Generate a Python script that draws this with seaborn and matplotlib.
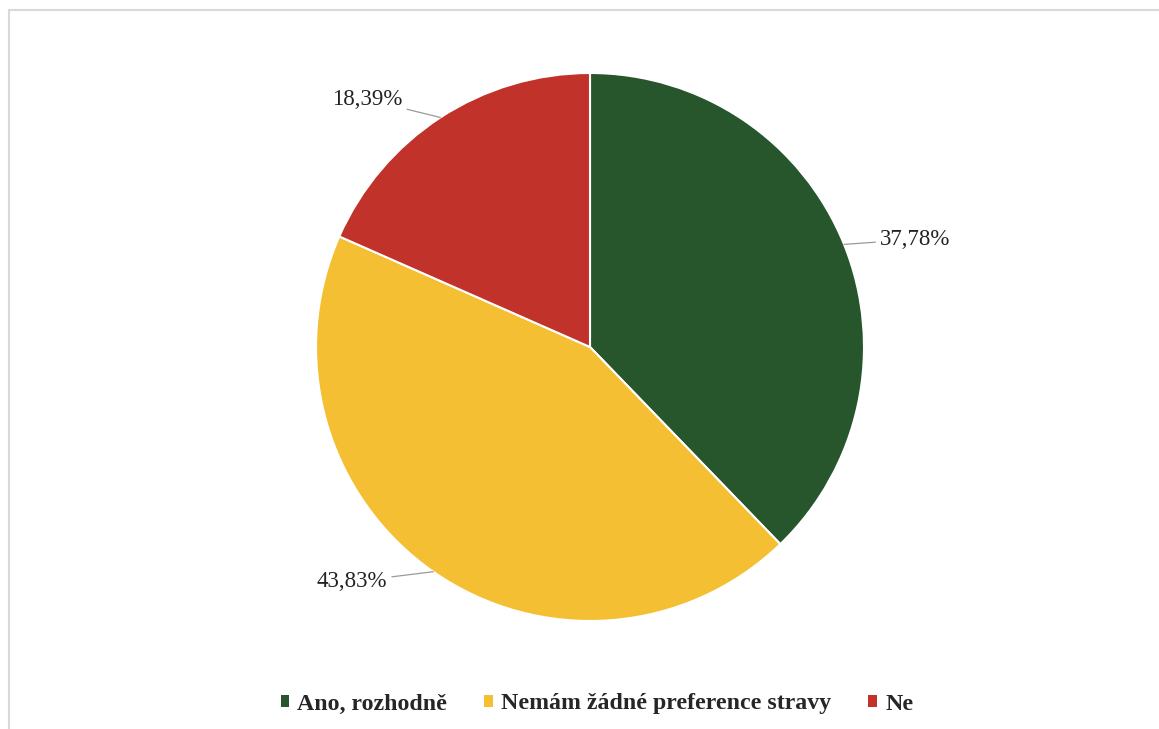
import matplotlib
matplotlib.use("Agg")
import matplotlib.pyplot as plt
import matplotlib.patches as mpatches
from matplotlib.lines import Line2D
import seaborn as sns
import numpy as np

# --- Data ---
categories = ["Ano, rozhodně", "Nemám žádné preference stravy", "Ne"]
shares = [37.78, 43.83, 18.39]
colors = ["#27552C", "#F5BF33", "#C0322A"]

# label offsets from the wedge edge (pixels), and text alignment
LABEL_OFFSETS = [(36, 5), (-46, -10), (-38, 18)]
LABEL_HA = ["left", "right", "right"]

W, H = 1159, 729
sns.set_theme(style="white")
plt.rcParams["font.family"] = ["Liberation Serif", "DejaVu Serif"]

fig = plt.figure(figsize=(W / 100, H / 100), dpi=100)
fig.patch.set_facecolor("white")

# pie centre (590, 347) px, radius 274 px
cx, cy, r = 590, 347, 274
ax = fig.add_axes([(cx - r) / W, (H - cy - r) / H, 2 * r / W, 2 * r / H])

wedges, _ = ax.pie(shares, colors=colors, startangle=90, counterclock=False,
                   radius=1.0, wedgeprops=dict(edgecolor="white", linewidth=1.5))
ax.set_xlim(-1, 1)
ax.set_ylim(-1, 1)
ax.set_aspect("equal")
ax.axis("off")

for w, val, off, ha in zip(wedges, shares, LABEL_OFFSETS, LABEL_HA):
    ang = np.deg2rad((w.theta1 + w.theta2) / 2)
    x, y = np.cos(ang), np.sin(ang)
    ax.annotate(f"{val:.2f}%".replace(".", ","), xy=(x, y), xytext=off,
                textcoords="offset pixels", ha=ha, va="center", fontsize=16.5,
                color="#222222",
                arrowprops=dict(arrowstyle="-", color="#9a9a9a", lw=0.9,
                                shrinkA=1, shrinkB=0))

# legend at the bottom
handles = [mpatches.Patch(facecolor=c, edgecolor="none") for c in colors]
fig.legend(handles, categories, loc="center", bbox_to_anchor=(597 / W, 1 - 704 / H),
           ncol=3, frameon=False, handlelength=0.35, handleheight=0.35,
           handletextpad=0.35, columnspacing=1.55,
           prop=dict(family="Liberation Serif", weight="bold", size=17.2))

# light frame (top and left edges visible)
fig.add_artist(Line2D([8.5 / W, 8.5 / W], [0, 1 - 9.5 / H], transform=fig.transFigure,
                      color="#D9D9D9", lw=1.5))
fig.add_artist(Line2D([8.5 / W, 1], [1 - 9.5 / H, 1 - 9.5 / H], transform=fig.transFigure,
                      color="#D9D9D9", lw=1.5))

fig.savefig("out.png", dpi=100, facecolor="white")
